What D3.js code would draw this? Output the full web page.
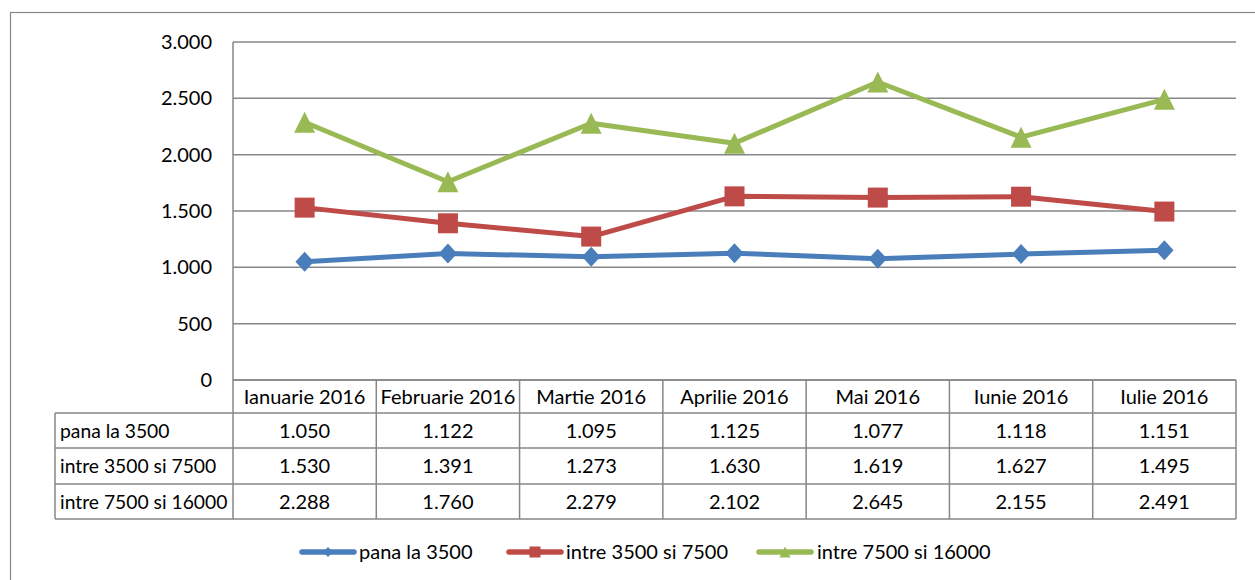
<!DOCTYPE html>
<html><head><meta charset="utf-8">
<script src="https://cdn.jsdelivr.net/npm/d3@7"></script>
<style>body{margin:0;background:#fff}svg{display:block}text{font-family:Lato,"Open Sans",sans-serif;fill:#000}</style>
</head><body><svg id="c" width="1255" height="580"></svg>
<script>
const categories = ["Ianuarie 2016","Februarie 2016","Martie 2016","Aprilie 2016","Mai 2016","Iunie 2016","Iulie 2016"];
const seriesNames = ["pana la 3500","intre 3500 si 7500","intre 7500 si 16000"];
const pana3500 = [1050,1122,1095,1125,1077,1118,1151];
const intre3500_7500 = [1530,1391,1273,1630,1619,1627,1495];
const intre7500_16000 = [2288,1760,2279,2102,2645,2155,2491];
const yTicks = [0,500,1000,1500,2000,2500,3000];
const colors = ["#4a7ebb","#be4b48","#98b954"];
const series = [pana3500, intre3500_7500, intre7500_16000];

const svg = d3.select("#c");
const fmt = v => d3.format(",.0f")(v).replace(/,/g,".");
const L=233, R=1236, T=42, B=380;
const FS=20;
const x = d3.scaleBand().domain(categories).range([L,R]);
const y = d3.scaleLinear().domain([0,3000]).range([B,T]);
const grid="#878787";

const diamondT={draw(c,s){const r=s/2;c.moveTo(0,-r);c.lineTo(r*0.92,0);c.lineTo(0,r);c.lineTo(-r*0.92,0);c.closePath();}};
const squareT={draw(c,s){const r=s/2;c.rect(-r,-r,s,s);}};
const triT={draw(c,s){const r=s/2;c.moveTo(0,-r);c.lineTo(r,r);c.lineTo(-r,r);c.closePath();}};
const types=[diamondT,squareT,triT];

svg.append("rect").attr("x",10.5).attr("y",12.5).attr("width",1260).attr("height",600).attr("fill","none").attr("stroke",grid).attr("stroke-width",1.2);

svg.append("g").selectAll("line").data(yTicks).join("line")
 .attr("x1",L).attr("x2",R).attr("y1",d=>y(d)).attr("y2",d=>y(d)).attr("stroke",grid).attr("stroke-width",1.5);
svg.append("line").attr("x1",L).attr("x2",L).attr("y1",T).attr("y2",B).attr("stroke",grid).attr("stroke-width",1.5);

svg.append("g").selectAll("text").data(yTicks).join("text")
 .attr("x",212).attr("y",d=>y(d)+7).attr("text-anchor","end").attr("font-size",FS).text(d=>fmt(d));

const rowH=[380,413,448,484,519];
const tbl=svg.append("g").attr("stroke",grid).attr("stroke-width",1.5);
tbl.append("line").attr("x1",L).attr("x2",R).attr("y1",rowH[0]).attr("y2",rowH[0]);
for(let i=1;i<rowH.length;i++) tbl.append("line").attr("x1",55).attr("x2",R).attr("y1",rowH[i]).attr("y2",rowH[i]);
tbl.append("line").attr("x1",55).attr("x2",55).attr("y1",rowH[1]).attr("y2",rowH[4]);
categories.forEach(c=>tbl.append("line").attr("x1",x(c)).attr("x2",x(c)).attr("y1",rowH[0]).attr("y2",rowH[4]));
tbl.append("line").attr("x1",R).attr("x2",R).attr("y1",rowH[0]).attr("y2",rowH[4]);

svg.append("g").selectAll("text").data(categories).join("text")
 .attr("x",d=>x(d)+x.bandwidth()/2).attr("y",(rowH[0]+rowH[1])/2+7).attr("text-anchor","middle").attr("font-size",FS).text(d=>d);
seriesNames.forEach((n,si)=>{
  const cy=(rowH[si+1]+rowH[si+2])/2+7;
  svg.append("text").attr("x",60).attr("y",cy).attr("font-size",19.3).text(n);
  svg.append("g").selectAll("text").data(series[si]).join("text")
   .attr("x",(d,i)=>x(categories[i])+x.bandwidth()/2).attr("y",cy).attr("text-anchor","middle").attr("font-size",FS).text(d=>fmt(d));
});

const line=d3.line().x((d,i)=>x(categories[i])+x.bandwidth()/2).y(d=>y(d));
const msize=[20,20,21];
series.forEach((s,si)=>{
  svg.append("path").datum(s).attr("d",line).attr("fill","none").attr("stroke",colors[si]).attr("stroke-width",5).attr("stroke-linejoin","round");
  svg.append("g").selectAll("path").data(s).join("path")
   .attr("transform",(d,i)=>`translate(${x(categories[i])+x.bandwidth()/2},${y(d)})`)
   .attr("d",d3.symbol().type(types[si]).size(msize[si])()).attr("fill",colors[si]);
});

const leg=[{x1:302,x2:354,tx:359},{x1:509,x2:561,tx:566},{x1:759,x2:811,tx:817}];
const lsize=[10,11,11];
leg.forEach((l,i)=>{
  svg.append("line").attr("x1",l.x1).attr("x2",l.x2).attr("y1",552).attr("y2",552).attr("stroke",colors[i]).attr("stroke-width",5.5).attr("stroke-linecap","round");
  svg.append("path").attr("transform",`translate(${(l.x1+l.x2)/2},552)`).attr("d",d3.symbol().type(types[i]).size(lsize[i])()).attr("fill",colors[i]);
  svg.append("text").attr("x",l.tx).attr("y",559).attr("font-size",FS).text(seriesNames[i]);
});
</script></body></html>
